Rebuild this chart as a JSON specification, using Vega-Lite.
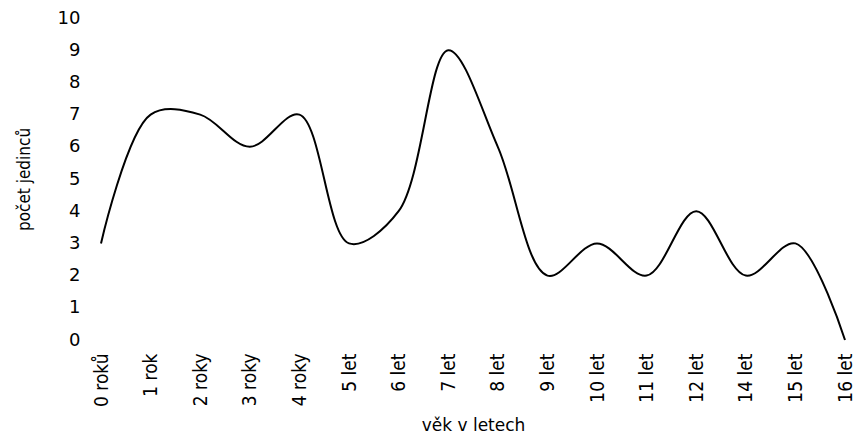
{
  "$schema": "https://vega.github.io/schema/vega-lite/v6.json",
  "width": 744,
  "height": 322,
  "autosize": {"type": "none"},
  "padding": {"left": 101, "top": 18, "right": 12, "bottom": 99},
  "background": "white",
  "data": {
    "values": [
      {"vek": "0 roků", "pocet": 3},
      {"vek": "1 rok", "pocet": 7},
      {"vek": "2 roky", "pocet": 7},
      {"vek": "3 roky", "pocet": 6},
      {"vek": "4 roky", "pocet": 7},
      {"vek": "5 let", "pocet": 3},
      {"vek": "6 let", "pocet": 4},
      {"vek": "7 let", "pocet": 9},
      {"vek": "8 let", "pocet": 6},
      {"vek": "9 let", "pocet": 2},
      {"vek": "10 let", "pocet": 3},
      {"vek": "11 let", "pocet": 2},
      {"vek": "12 let", "pocet": 4},
      {"vek": "14 let", "pocet": 2},
      {"vek": "15 let", "pocet": 3},
      {"vek": "16 let", "pocet": 0}
    ]
  },
  "config": {"view": {"stroke": null}},
  "mark": {"type": "line", "interpolate": "catmull-rom", "color": "black", "strokeWidth": 2},
  "encoding": {
    "x": {
      "field": "vek",
      "type": "ordinal",
      "sort": null,
      "scale": {"type": "point", "padding": 0},
      "axis": {
        "title": "věk v letech",
        "titleFont": "DejaVu Sans",
        "titleFontSize": 17,
        "titleFontWeight": "normal",
        "titleColor": "black",
        "titlePadding": 11,
        "labelAngle": -90,
        "labelFont": "DejaVu Sans Condensed",
        "labelFontSize": 19,
        "labelColor": "black",
        "labelPadding": 13,
        "domain": false,
        "ticks": false,
        "grid": false
      }
    },
    "y": {
      "field": "pocet",
      "type": "quantitative",
      "scale": {"domain": [0, 10], "nice": false, "zero": true},
      "axis": {
        "title": "počet jedinců",
        "titleFont": "DejaVu Sans Condensed",
        "titleFontSize": 17,
        "titleFontWeight": "normal",
        "titleColor": "black",
        "titlePadding": 24,
        "values": [0, 1, 2, 3, 4, 5, 6, 7, 8, 9, 10],
        "labelFont": "DejaVu Sans",
        "labelFontSize": 18,
        "labelColor": "black",
        "labelPadding": 21,
        "domain": false,
        "ticks": false,
        "grid": false
      }
    }
  }
}
